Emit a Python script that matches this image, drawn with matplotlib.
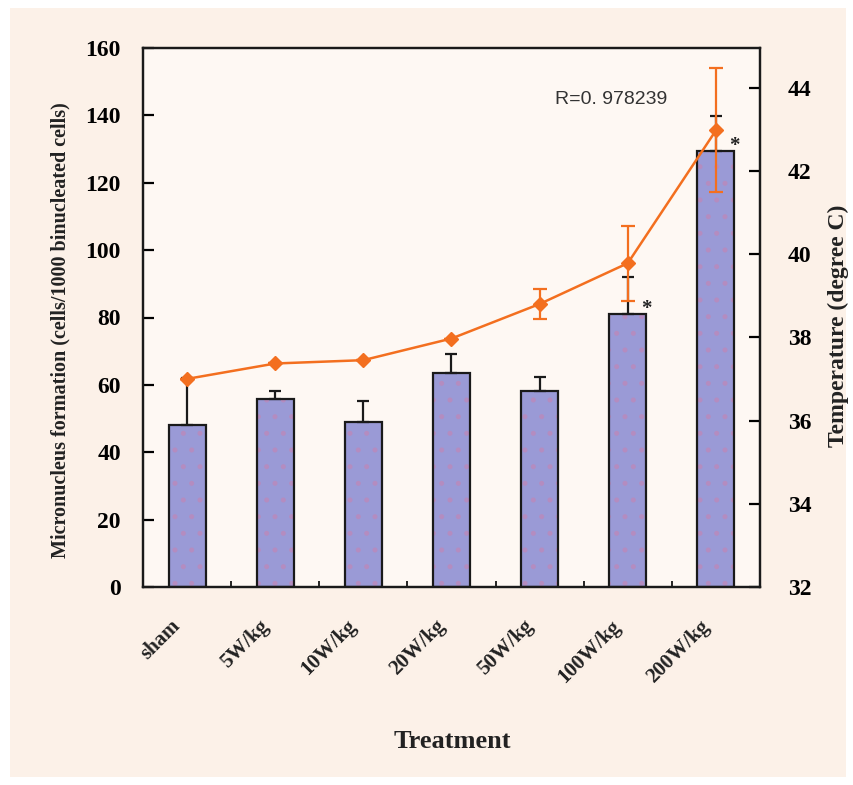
import numpy as np
import matplotlib.pyplot as plt
from matplotlib.patches import Rectangle

treatments = ["sham", "5W/kg", "10W/kg", "20W/kg", "50W/kg", "100W/kg", "200W/kg"]
micronuclei = [48.0, 55.9, 48.9, 63.6, 58.3, 81.0, 129.3]
micronuclei_err = [14.0, 2.2, 6.2, 5.7, 3.9, 10.9, 10.6]
temperature = [37.0, 37.37, 37.45, 37.97, 38.8, 39.78, 42.97]
temperature_err = [0.0, 0.0, 0.0, 0.0, 0.37, 0.9, 1.49]
significant = [False, False, False, False, False, True, True]

serif = ["Liberation Serif", "DejaVu Serif"]
plt.rcParams["hatch.linewidth"] = 1.2

fig = plt.figure(figsize=(8.54, 7.85), dpi=100, facecolor="white")
# pinkish panel behind everything
fig.patches.append(Rectangle((10 / 854, 8 / 785), 836 / 854, 769 / 785,
                             transform=fig.transFigure, facecolor="#fcf1e8",
                             edgecolor="none", zorder=-10))

ax = fig.add_axes([143 / 854, 1 - 587 / 785, 617 / 854, 539 / 785])
ax.set_facecolor("#fef8f3")
x = np.arange(len(treatments))
w = 0.42

# dotted fill, then the black outline on top
ax.bar(x, micronuclei, w, color="#9a9ad6", edgecolor="#b48cc0", hatch=".",
       linewidth=0, zorder=2)
ax.bar(x, micronuclei, w, color="none", edgecolor="#1a1a1a", linewidth=1.6, zorder=3)
ax.errorbar(x, micronuclei, yerr=[np.zeros(len(x)), micronuclei_err], fmt="none",
            ecolor="#1a1a1a", elinewidth=1.6, capsize=4.5, capthick=1.6, zorder=3)

for i, s in enumerate(significant):
    if s:
        ax.text(i + w / 2, micronuclei[i] + 1.5, "*", fontsize=15,
                family=serif, fontweight="bold", ha="center", va="center", color="#222222")

ax.set_xlim(-0.5, len(treatments) - 0.5)
ax.set_ylim(0, 160)
ax.set_yticks(np.arange(0, 161, 20))
ax.set_xticks(np.arange(-0.5, len(treatments), 1.0))
ax.set_xticklabels([])
ax.tick_params(axis="x", direction="in", length=4, width=1.2)
ax.tick_params(axis="y", direction="in", length=8, width=1.6, pad=16, labelsize=17)
for lab in ax.get_yticklabels():
    lab.set_family(serif)
    lab.set_fontweight("bold")
for sp in ax.spines.values():
    sp.set_linewidth(1.6)
    sp.set_color("#1a1a1a")

for i, t in enumerate(treatments):
    ax.annotate(t, xy=(i, 0), xycoords=("data", "axes fraction"),
                xytext=(-12, -21), textcoords="offset points",
                rotation=45, rotation_mode="anchor", ha="right", va="top",
                fontsize=15, family=serif, fontweight="bold", color="#222222")

ax2 = ax.twinx()
ax2.set_ylim(32, 44.95)
ax2.set_yticks(np.arange(32, 45, 2))
ax2.errorbar(x, temperature, yerr=temperature_err, color="#f36f1f", marker="D",
             markersize=7, linewidth=1.8, elinewidth=1.6, capsize=5, capthick=1.6,
             zorder=4)
ax2.tick_params(axis="y", direction="in", length=8, width=1.6, pad=20, labelsize=17)
for lab in ax2.get_yticklabels():
    lab.set_family(serif)
    lab.set_fontweight("bold")
for sp in ax2.spines.values():
    sp.set_linewidth(1.6)
    sp.set_color("#1a1a1a")

ax.text(4.17, 144.6, "R=0. 978239", fontsize=14, family=["Liberation Sans", "DejaVu Sans"],
        color="#333333", va="center", ha="left")

fig.text(452 / 854, 1 - 742 / 785, "Treatment", fontsize=19, family=serif,
         fontweight="bold", ha="center", va="center", color="#222222")
fig.text(60 / 854, 1 - 330 / 785, "Micronucleus formation (cells/1000 binucleated cells)",
         rotation=90, fontsize=14.5, family=serif, fontweight="bold",
         ha="center", va="center", color="#222222")
fig.text(838 / 854, 1 - 326 / 785, "Temperature (degree C)", rotation=90,
         fontsize=17, family=serif, fontweight="bold", ha="center", va="center",
         color="#222222")

fig.savefig("out.png", dpi=100, facecolor=fig.get_facecolor())
